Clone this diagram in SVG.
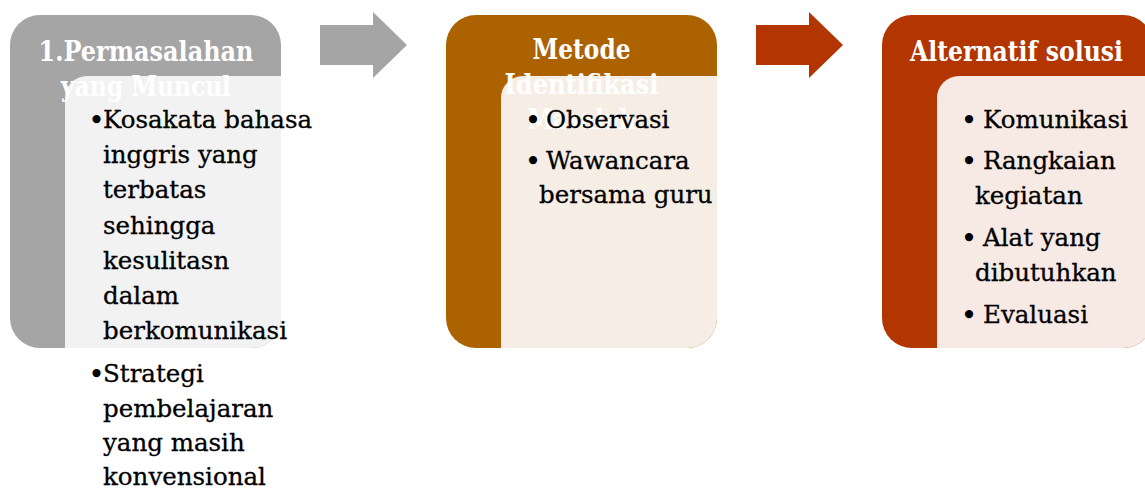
<svg xmlns="http://www.w3.org/2000/svg" width="1145" height="491" viewBox="0 0 1145 491">
  <style>
    .title { font-family: "DejaVu Serif", "Liberation Serif", serif; font-weight: bold; font-size: 27px; fill: #ffffff; text-anchor: middle; }
    .body { font-family: "DejaVu Serif", "Liberation Serif", serif; font-size: 24.5px; fill: #000000; stroke: #000000; stroke-width: 0.3px; }
    .bul { font-family: "DejaVu Serif", "Liberation Serif", serif; font-size: 28px; fill: #000000; text-anchor: middle; }
  </style>
  <rect width="1145" height="491" fill="#ffffff"/>

  <g id="connectors">
    <polygon points="320,25 373,25 373,12 407,45 373,78 373,65 320,65" fill="#a5a5a5"/>
    <polygon points="756,25 809,25 809,12 843,45 809,78 809,65 756,65" fill="#b33500"/>
  </g>

  <g id="node-permasalahan">
    <rect x="10" y="15" width="271" height="333" rx="30" ry="30" fill="#a5a5a5"/>
    <path d="M87,76 H281 V318 A30,30 0 0 1 251,348 H65 V98 A22,22 0 0 1 87,76 Z" fill="#f2f2f2"/>
    <text class="title" x="146" y="61" textLength="215" lengthAdjust="spacingAndGlyphs">1.Permasalahan</text>
    <text class="title" x="146" y="96" textLength="170" lengthAdjust="spacingAndGlyphs">yang Muncul</text>
    <text class="bul" x="96.5" y="130">•</text>
    <text class="body" x="103" y="128">Kosakata bahasa</text>
    <text class="body" x="103" y="163">inggris yang</text>
    <text class="body" x="103" y="198">terbatas</text>
    <text class="body" x="103" y="234">sehingga</text>
    <text class="body" x="103" y="269">kesulitasn</text>
    <text class="body" x="103" y="304">dalam</text>
    <text class="body" x="103" y="339">berkomunikasi</text>
    <text class="bul" x="96.5" y="384">•</text>
    <text class="body" x="103" y="382">Strategi</text>
    <text class="body" x="103" y="417">pembelajaran</text>
    <text class="body" x="103" y="451">yang masih</text>
    <text class="body" x="103" y="485">konvensional</text>
  </g>

  <g id="node-metode">
    <rect x="446" y="15" width="271" height="333" rx="30" ry="30" fill="#ad6200"/>
    <path d="M523,76 H717 V318 A30,30 0 0 1 687,348 H501 V98 A22,22 0 0 1 523,76 Z" fill="#f6eee5"/>
    <text class="title" x="581.5" y="59" textLength="98" lengthAdjust="spacingAndGlyphs">Metode</text>
    <text class="title" x="581.5" y="94" textLength="154" lengthAdjust="spacingAndGlyphs">Identifikasi</text>
    <text class="title" x="581.5" y="129" textLength="108" lengthAdjust="spacingAndGlyphs">Masalah</text>
    <text class="bul" x="533" y="130">•</text>
    <text class="body" x="546" y="128">Observasi</text>
    <text class="bul" x="533" y="171">•</text>
    <text class="body" x="546" y="169">Wawancara</text>
    <text class="body" x="539" y="203">bersama guru</text>
  </g>

  <g id="node-alternatif">
    <rect x="882" y="15" width="271" height="333" rx="30" ry="30" fill="#b33500"/>
    <path d="M959,76 H1153 V318 A30,30 0 0 1 1123,348 H937 V98 A22,22 0 0 1 959,76 Z" fill="#f7e9e4"/>
    <text class="title" x="1016.5" y="61" textLength="213" lengthAdjust="spacingAndGlyphs">Alternatif solusi</text>
    <text class="bul" x="969" y="130">•</text>
    <text class="body" x="983" y="128">Komunikasi</text>
    <text class="bul" x="969" y="171">•</text>
    <text class="body" x="983" y="169">Rangkaian</text>
    <text class="body" x="975" y="204">kegiatan</text>
    <text class="bul" x="969" y="248">•</text>
    <text class="body" x="983" y="246">Alat yang</text>
    <text class="body" x="975" y="281">dibutuhkan</text>
    <text class="bul" x="969" y="325">•</text>
    <text class="body" x="983" y="323">Evaluasi</text>
  </g>
</svg>
